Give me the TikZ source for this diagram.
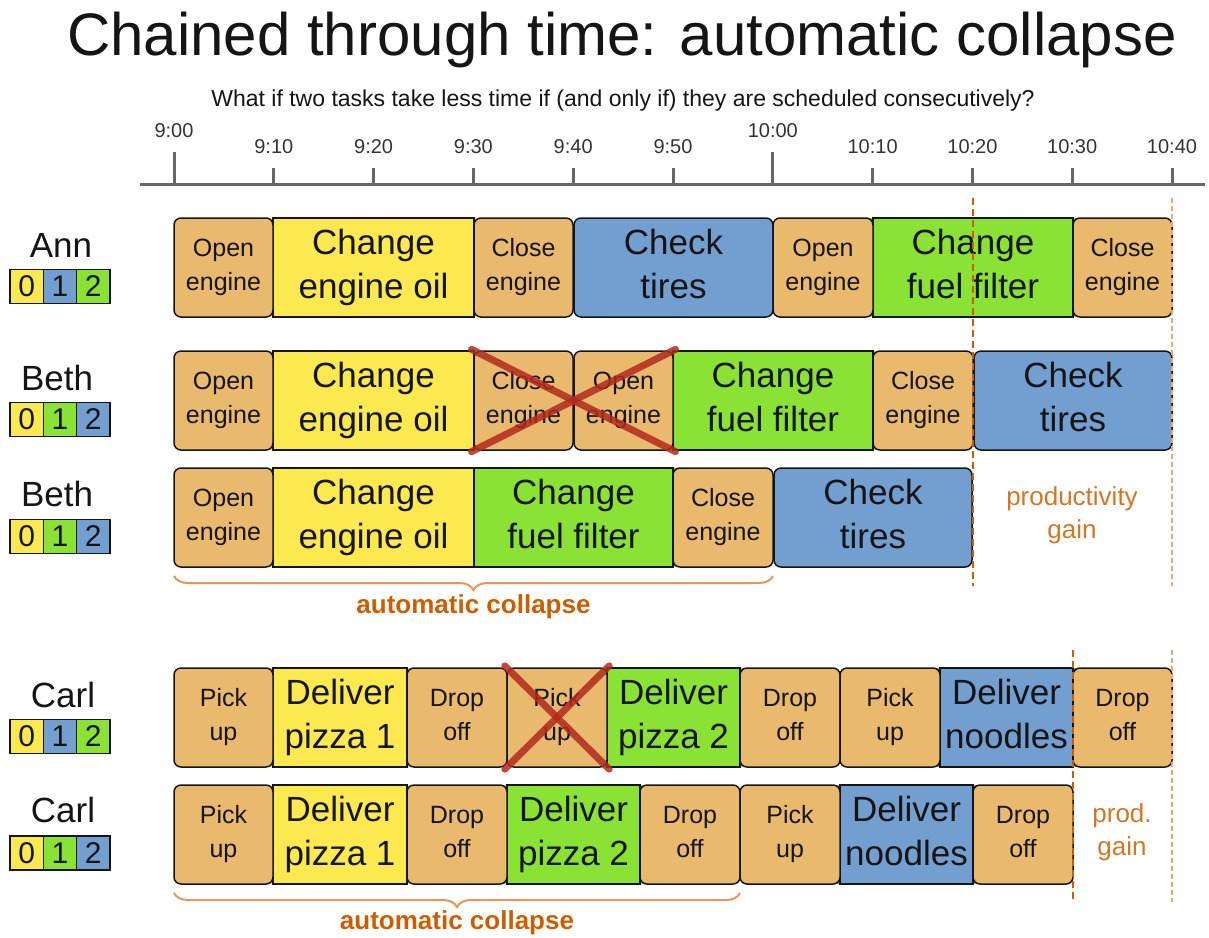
\documentclass[tikz,border=0pt]{standalone}
\usepackage{fontspec}
\setmainfont{Liberation Sans}
\usetikzlibrary{decorations.pathreplacing}
\definecolor{orangec}{HTML}{E9B96E}
\definecolor{yellowc}{HTML}{FCE94F}
\definecolor{bluec}{HTML}{729FCF}
\definecolor{greenc}{HTML}{8AE234}
\definecolor{darkor}{HTML}{CE5C00}
\definecolor{lightor}{HTML}{F2A66E}
\definecolor{braceor}{HTML}{E8955A}
\definecolor{xred}{HTML}{B22A1E}
\definecolor{axisc}{HTML}{666666}
\definecolor{inkc}{HTML}{151515}
\newcommand\tk[6]{\node[#5, minimum width={#3-#2}] (#1) at ({(#2+#3)/2},#4) {#6\vphantom{g}};}
\begin{document}
\begin{tikzpicture}[x=1pt,y=-1pt,
  box/.style={draw=inkc, line width=1.5pt, inner sep=0pt, minimum height=99pt, align=center, text=inkc},
  sbox/.style={box, fill=orangec, rounded corners=7pt, font=\fontsize{25}{34}\selectfont},
  lbox/.style={box, fill=#1, font=\fontsize{35}{44}\selectfont},
  rbox/.style={box, fill=#1, rounded corners=7pt, font=\fontsize{35}{44}\selectfont},
  badge/.style={draw=inkc, line width=1.5pt, fill=#1, inner sep=0pt, minimum width=33.3pt, minimum height=34pt, text=inkc, font=\fontsize{30}{30}\selectfont},
  person/.style={anchor=base, text=inkc, font=\fontsize{35}{35}\selectfont},
  timelab/.style={anchor=base, text=black!80, font=\fontsize{20}{20}\selectfont},
  axisline/.style={draw=axisc, line width=3pt},
  gaindark/.style={draw=darkor, line width=1.5pt, dash pattern=on 7pt off 4pt},
  gainlight/.style={draw=lightor, line width=2pt, dash pattern=on 5pt off 3pt},
  gaintext/.style={text=darkor!85, align=center, font=\fontsize{26}{33}\selectfont},
  collapsetext/.style={anchor=base, text=darkor, font=\bfseries\fontsize{26}{26}\selectfont},
  bracestyle/.style={draw=braceor, line width=2pt, decorate, decoration={brace, mirror, amplitude=14pt}},
  cross/.style={draw=xred, line width=7pt, line cap=round, opacity=0.85, shorten <=-2pt, shorten >=-2pt}
]
\useasboundingbox (0,0) rectangle (1209,937);

% title
\node[anchor=base, text=inkc, font=\fontsize{60}{60}\selectfont] (title) at (622,55) {Chained through time: automatic collapse};
\node[anchor=base, text=inkc, font=\fontsize{23}{23}\selectfont] (subtitle) at (623,106) {What if two tasks take less time if (and only if) they are scheduled consecutively?};

% timeline
\draw[axisline] (140,184) -- (1205,184);
\foreach \i/\lab/\yy/\tt in {0/9:00/137/152, 1/9:10/153/168, 2/9:20/153/168, 3/9:30/153/168, 4/9:40/153/168, 5/9:50/153/168, 6/10:00/137/152, 7/10:10/153/168, 8/10:20/153/168, 9/10:30/153/168, 10/10:40/153/168}{
  \draw[axisline] ({174+99.8*\i},\tt) -- ({174+99.8*\i},184);
  \node[timelab] (t\i) at ({174+99.8*\i},\yy) {\lab};
}

% names and badges
\node[person] (ann) at (61,257) {Ann};
\node[badge=yellowc] (annb0) at (26.7,286.5) {0};
\node[badge=bluec] (annb1) at (60,286.5) {1};
\node[badge=greenc] (annb2) at (93.3,286.5) {2};

\node[person] (bethA) at (57,390) {Beth};
\node[badge=yellowc] (bethAb0) at (26.7,419.5) {0};
\node[badge=greenc] (bethAb1) at (60,419.5) {1};
\node[badge=bluec] (bethAb2) at (93.3,419.5) {2};

\node[person] (bethB) at (57,506) {Beth};
\node[badge=yellowc] (bethBb0) at (26.7,536.5) {0};
\node[badge=greenc] (bethBb1) at (60,536.5) {1};
\node[badge=bluec] (bethBb2) at (93.3,536.5) {2};

\node[person] (carlA) at (63,707) {Carl};
\node[badge=yellowc] (carlAb0) at (26.7,736.5) {0};
\node[badge=bluec] (carlAb1) at (60,736.5) {1};
\node[badge=greenc] (carlAb2) at (93.3,736.5) {2};

\node[person] (carlB) at (63,822) {Carl};
\node[badge=yellowc] (carlBb0) at (26.7,853) {0};
\node[badge=greenc] (carlBb1) at (60,853) {1};
\node[badge=bluec] (carlBb2) at (93.3,853) {2};

% ---- Ann row
\fill[yellowc] (266,218) rectangle (481,317);
\fill[greenc] (866,218) rectangle (1080,317);
\tk{a2}{273}{474}{267.5}{lbox=yellowc}{Change\\engine oil}
\tk{a6}{873}{1073}{267.5}{lbox=greenc}{Change\\fuel filter}
\tk{a1}{174}{273}{267.5}{sbox}{Open\\engine}
\tk{a3}{474}{573}{267.5}{sbox}{Close\\engine}
\tk{a4}{574}{773}{267.5}{rbox=bluec}{Check\\tires}
\tk{a5}{773}{873}{267.5}{sbox}{Open\\engine}
\tk{a7}{1073}{1172}{267.5}{sbox}{Close\\engine}

% ---- Beth row 1
\fill[yellowc] (266,351) rectangle (481,450);
\fill[greenc] (666,351) rectangle (880,450);
\tk{b2}{273}{474}{400.5}{lbox=yellowc}{Change\\engine oil}
\tk{b5}{673}{873}{400.5}{lbox=greenc}{Change\\fuel filter}
\tk{b1}{174}{273}{400.5}{sbox}{Open\\engine}
\tk{b3}{474}{573}{400.5}{sbox}{Close\\engine}
\tk{b4}{574}{673}{400.5}{sbox}{Open\\engine}
\tk{b6}{873}{973}{400.5}{sbox}{Close\\engine}
\tk{b7}{974}{1172}{400.5}{rbox=bluec}{Check\\tires}

% ---- Beth row 2
\fill[yellowc] (266,468) rectangle (474,567);
\fill[greenc] (474,468) rectangle (680,567);
\tk{c2}{273}{474}{517.5}{lbox=yellowc}{Change\\engine oil}
\tk{c3}{474}{673}{517.5}{lbox=greenc}{Change\\fuel filter}
\tk{c1}{174}{273}{517.5}{sbox}{Open\\engine}
\tk{c4}{673}{773}{517.5}{sbox}{Close\\engine}
\tk{c5}{774}{972}{517.5}{rbox=bluec}{Check\\tires}

% ---- Carl row 1
\fill[yellowc] (266,668) rectangle (414,767);
\fill[greenc] (600,668) rectangle (747,767);
\fill[bluec] (933,668) rectangle (1080,767);
\tk{d2}{273}{407}{717.5}{lbox=yellowc}{Deliver\\pizza 1}
\tk{d5}{607}{740}{717.5}{lbox=greenc}{Deliver\\pizza 2}
\tk{d8}{940}{1073}{717.5}{lbox=bluec}{Deliver\\noodles}
\tk{d1}{174}{273}{717.5}{sbox}{Pick\\up}
\tk{d3}{407}{507}{717.5}{sbox}{Drop\\off}
\tk{d4}{507}{607}{717.5}{sbox}{Pick\\up}
\tk{d6}{740}{840}{717.5}{sbox}{Drop\\off}
\tk{d7}{840}{940}{717.5}{sbox}{Pick\\up}
\tk{d9}{1073}{1172}{717.5}{sbox}{Drop\\off}

% ---- Carl row 2
\fill[yellowc] (266,785) rectangle (414,884);
\fill[greenc] (500,785) rectangle (647,884);
\fill[bluec] (833,785) rectangle (980,884);
\tk{e2}{273}{407}{834.5}{lbox=yellowc}{Deliver\\pizza 1}
\tk{e4}{507}{640}{834.5}{lbox=greenc}{Deliver\\pizza 2}
\tk{e7}{840}{973}{834.5}{lbox=bluec}{Deliver\\noodles}
\tk{e1}{174}{273}{834.5}{sbox}{Pick\\up}
\tk{e3}{407}{507}{834.5}{sbox}{Drop\\off}
\tk{e5}{640}{740}{834.5}{sbox}{Drop\\off}
\tk{e6}{740}{840}{834.5}{sbox}{Pick\\up}
\tk{e8}{973}{1073}{834.5}{sbox}{Drop\\off}

% crosses
\draw[cross] (b3.north west) -- (b4.south east);
\draw[cross] (b3.south west) -- (b4.north east);
\draw[cross] (d4.north west) -- (d4.south east);
\draw[cross] (d4.south west) -- (d4.north east);

% productivity gain markers
\coordinate (g1t) at (973,198); \coordinate (g1b) at (973,586);
\coordinate (g2t) at (1172,198); \coordinate (g2b) at (1172,586);
\coordinate (g3t) at (1073,650); \coordinate (g3b) at (1073,902);
\coordinate (g4t) at (1172,650); \coordinate (g4b) at (1172,902);
\draw[gaindark] (g1t) -- (g1b);
\draw[gainlight] (g2t) -- (g2b);
\draw[gaindark] (g3t) -- (g3b);
\draw[gainlight] (g4t) -- (g4b);
\node[gaintext] (gain1) at (1072,515) {productivity\\gain};
\node[gaintext] (gain2) at (1122,832) {prod.\\gain};

% braces
\coordinate (br1a) at (174,576); \coordinate (br1b) at (773,576);
\coordinate (br2a) at (174,893); \coordinate (br2b) at (740,893);
\draw[bracestyle] (br1a) -- (br1b);
\draw[bracestyle] (br2a) -- (br2b);
\node[collapsetext] (ac1) at (473.5,613) {automatic collapse};
\node[collapsetext] (ac2) at (457,929) {automatic collapse};
\end{tikzpicture}
\end{document}
